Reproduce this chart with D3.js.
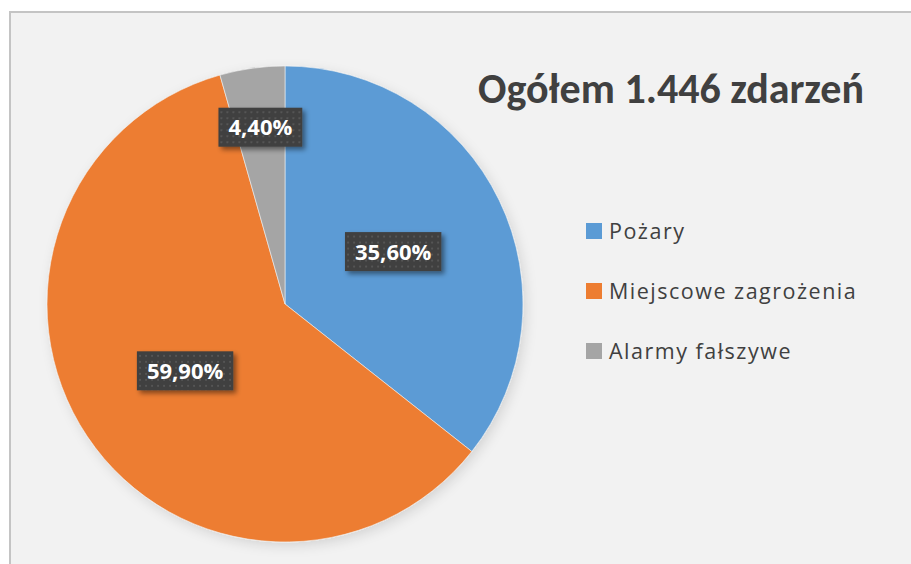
<!DOCTYPE html>
<html><head><meta charset="utf-8">
<script src="https://cdn.jsdelivr.net/npm/d3@7/dist/d3.min.js"></script>
<style>
html,body{margin:0;padding:0;background:#fff;}
svg{display:block;}
</style></head>
<body>
<script>
const categories = ["Pożary", "Miejscowe zagrożenia", "Alarmy fałszywe"];
const values = [35.6, 59.9, 4.4];
const valueLabels = ["35,60%", "59,90%", "4,40%"];
const colors = ["#5b9bd5", "#ed7d31", "#a5a5a5"];
const title = "Ogółem 1.446 zdarzeń";

const W = 911, H = 564;
const TFONT = "Carlito, Lato, sans-serif";
const FONT = "'Open Sans', 'Noto Sans', sans-serif";
const svg = d3.select("body").append("svg").attr("width", W).attr("height", H);
const defs = svg.append("defs");

const pat = defs.append("pattern").attr("id","dots").attr("patternUnits","userSpaceOnUse")
  .attr("width",6).attr("height",6);
pat.append("rect").attr("width",6).attr("height",6).attr("fill","#3f3f3f");
pat.append("rect").attr("x",2).attr("y",2).attr("width",2).attr("height",2).attr("fill","#555555");

const sh = defs.append("filter").attr("id","boxShadow").attr("x","-20%").attr("y","-20%").attr("width","150%").attr("height","160%");
sh.append("feDropShadow").attr("dx",3).attr("dy",3).attr("stdDeviation",2.5).attr("flood-color","#000").attr("flood-opacity",0.45);

const psh = defs.append("filter").attr("id","pieShadow").attr("x","-10%").attr("y","-10%").attr("width","125%").attr("height","125%");
psh.append("feDropShadow").attr("dx",3).attr("dy",4).attr("stdDeviation",6).attr("flood-color","#000").attr("flood-opacity",0.12);

// chart frame
svg.append("rect").attr("x",10).attr("y",12).attr("width",W+10).attr("height",H+10)
  .attr("fill","#f2f2f2").attr("stroke","#c4c4c4").attr("stroke-width",2);

const cx = 285, cy = 304, R = 238;
const pie = d3.pie().sort(null).value(d => d)(values);
const arc = d3.arc().innerRadius(0).outerRadius(R);
const g = svg.append("g").attr("transform", `translate(${cx},${cy})`);
const slices = g.append("g").attr("filter","url(#pieShadow)");
slices.selectAll("path").data(pie).join("path")
  .attr("d", arc).attr("fill", (d,i) => colors[i])
  .attr("stroke","#f2f2f2").attr("stroke-width",0.6);

// data labels
pie.forEach((d,i) => {
  const span = d.endAngle - d.startAngle;
  const rf = span < 0.5 ? 0.75 : 0.505;
  const la = d3.arc().innerRadius(R*rf).outerRadius(R*rf);
  const [x,y] = la.centroid(d);
  const lg = g.append("g").attr("transform", `translate(${x},${y})`);
  const t = lg.append("text").text(valueLabels[i])
    .attr("font-family",FONT).attr("font-weight","bold").attr("font-size",22)
    .attr("fill","#fff").attr("text-anchor","middle").attr("dy","0.36em");
  const bw = t.node().getComputedTextLength() + 20;
  const bh = 39;
  lg.insert("rect","text").attr("x",-bw/2).attr("y",-bh/2).attr("width",bw).attr("height",bh)
    .attr("fill","url(#dots)").attr("filter","url(#boxShadow)");
});

// title
svg.append("text").text(title).attr("x",671).attr("y",103)
  .attr("text-anchor","middle").attr("font-family",TFONT).attr("font-weight","bold")
  .attr("font-size",42).attr("fill","#404040");

// legend
const leg = svg.append("g").attr("transform","translate(586,223)");
categories.forEach((c,i) => {
  const row = leg.append("g").attr("transform",`translate(0,${i*60})`);
  row.append("rect").attr("width",16).attr("height",16).attr("fill",colors[i]);
  row.append("text").text(c).attr("x",23).attr("y",16)
    .attr("font-family",FONT).attr("font-size",21.5).attr("letter-spacing",1.5)
    .attr("fill","#404040");
});
</script>
</body></html>
